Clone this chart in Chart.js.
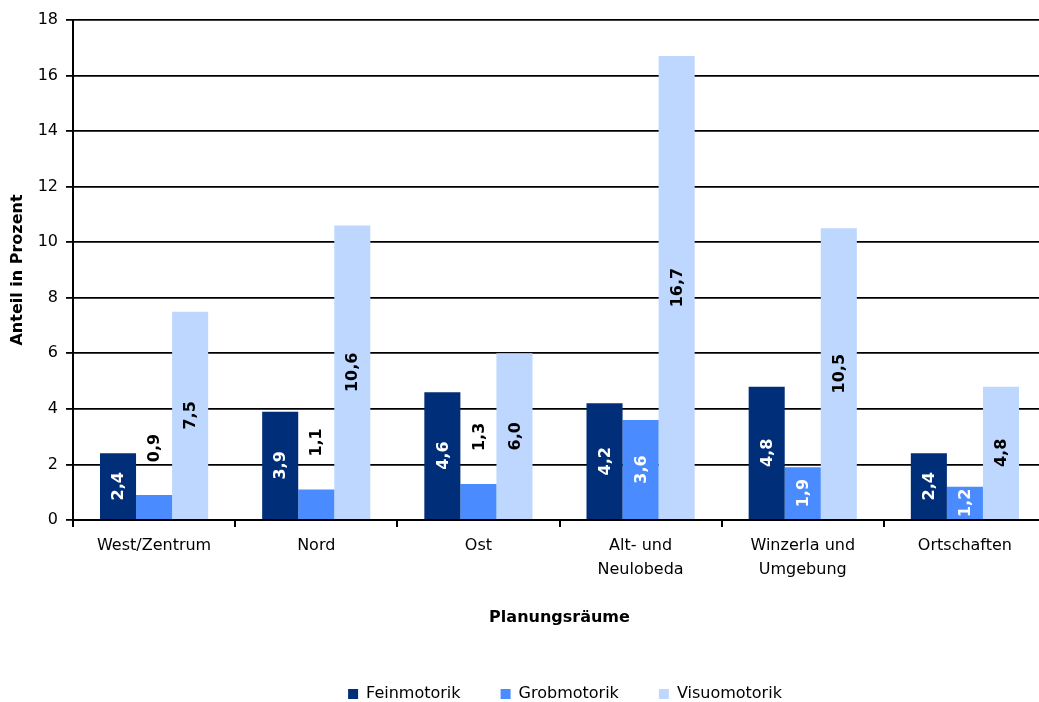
<!DOCTYPE html>
<html><head><meta charset="utf-8">
<script src="https://cdn.jsdelivr.net/npm/chart.js@4/dist/chart.umd.min.js"></script>
<style>
html,body{margin:0;padding:0;overflow:hidden;background:#fff;width:1039px;height:702px}
canvas{position:absolute;left:0;top:0}
</style></head>
<body><canvas id="c" width="1046" height="702"></canvas>
<script>
const categories = [['West/Zentrum'], ['Nord'], ['Ost'], ['Alt- und', 'Neulobeda'], ['Winzerla und', 'Umgebung'], ['Ortschaften']];
const seriesNames = ['Feinmotorik', 'Grobmotorik', 'Visuomotorik'];
const feinmotorik = [2.4, 3.9, 4.6, 4.2, 4.8, 2.4];
const grobmotorik = [0.9, 1.1, 1.3, 3.6, 1.9, 1.2];
const visuomotorik = [7.5, 10.6, 6.0, 16.7, 10.5, 4.8];
const yMin = 0, yMax = 18, yStep = 2;
const xTitle = 'Planungsräume';
const yTitle = 'Anteil in Prozent';

const FONT = "'DejaVu Sans', 'Liberation Sans', sans-serif";
const colors = ['#002E78', '#4A8CFF', '#BDD7FF'];

const barLabels = {
  id: 'barLabels',
  afterDatasetsDraw(chart, args, opts) {
    const ctx = chart.ctx;
    chart.data.datasets.forEach((ds, di) => {
      const meta = chart.getDatasetMeta(di);
      meta.data.forEach((bar, i) => {
        const v = ds.data[i];
        const text = v.toFixed(1).replace('.', ',');
        const outside = (opts.outside[di] || []).includes(i);
        ctx.save();
        ctx.font = 'bold 16px ' + FONT;
        const cy = outside ? bar.y - opts.outsideOffset : (bar.y + bar.base) / 2;
        ctx.translate(bar.x, cy);
        ctx.rotate(-Math.PI / 2);
        ctx.textAlign = 'center';
        ctx.textBaseline = 'middle';
        ctx.fillStyle = outside ? '#000' : opts.insideColors[di];
        ctx.fillText(text, 0, 1);
        ctx.restore();
      });
    });
  }
};

const legendFix = {
  id: 'legendFix',
  beforeLayout(chart) {
    const lg = chart.legend;
    if (lg && !lg._patched) {
      const orig = lg.fit.bind(lg);
      lg.fit = function () { orig(); this.height = 56; };
      lg._patched = true;
    }
  },
  afterLayout(chart) {
    const lg = chart.legend;
    if (lg) { lg.left += 42; lg.right += 42; }
  }
};

new Chart(document.getElementById('c'), {
  type: 'bar',
  data: {
    labels: categories,
    datasets: [
      { label: seriesNames[0], data: feinmotorik, backgroundColor: colors[0] },
      { label: seriesNames[1], data: grobmotorik, backgroundColor: colors[1] },
      { label: seriesNames[2], data: visuomotorik, backgroundColor: colors[2] }
    ]
  },
  options: {
    responsive: false,
    animation: false,
    devicePixelRatio: 1,
    categoryPercentage: 0.667,
    barPercentage: 1,
    layout: { padding: { top: 20, left: 0, right: 0, bottom: 0 } },
    scales: {
      x: {
        grid: { display: true, drawOnChartArea: false, offset: true, tickLength: 7, color: '#000', lineWidth: 2 },
        border: { display: true, color: '#000', width: 2 },
        ticks: { color: '#000', font: { family: FONT, size: 16, lineHeight: 1.5 }, padding: 7, maxRotation: 0 },
        title: { display: true, text: xTitle, color: '#000', font: { family: FONT, size: 16, weight: 'bold' }, padding: { top: 0, bottom: 19 } },
        afterFit(s) { s.height = 126; }
      },
      y: {
        min: yMin, max: yMax,
        ticks: { stepSize: yStep, color: '#000', font: { family: FONT, size: 16 }, padding: 8 },
        grid: { color: '#000', lineWidth: 1.8, tickLength: 7 },
        border: { display: true, color: '#000', width: 2 },
        title: { display: true, text: yTitle, color: '#000', font: { family: FONT, size: 16, weight: 'bold' }, padding: { top: 8, bottom: 0 } },
        afterFit(s) { s.width = 73; }
      }
    },
    plugins: {
      legend: {
        position: 'bottom',
        labels: { boxWidth: 10, boxHeight: 10, color: '#000', font: { family: FONT, size: 16 }, padding: 40 }
      },
      tooltip: { enabled: false },
      barLabels: {
        outside: { 1: [0, 1, 2] },
        outsideOffset: 47,
        insideColors: ['#fff', '#fff', '#000']
      }
    }
  },
  plugins: [barLabels, legendFix]
});
</script>
</body></html>
